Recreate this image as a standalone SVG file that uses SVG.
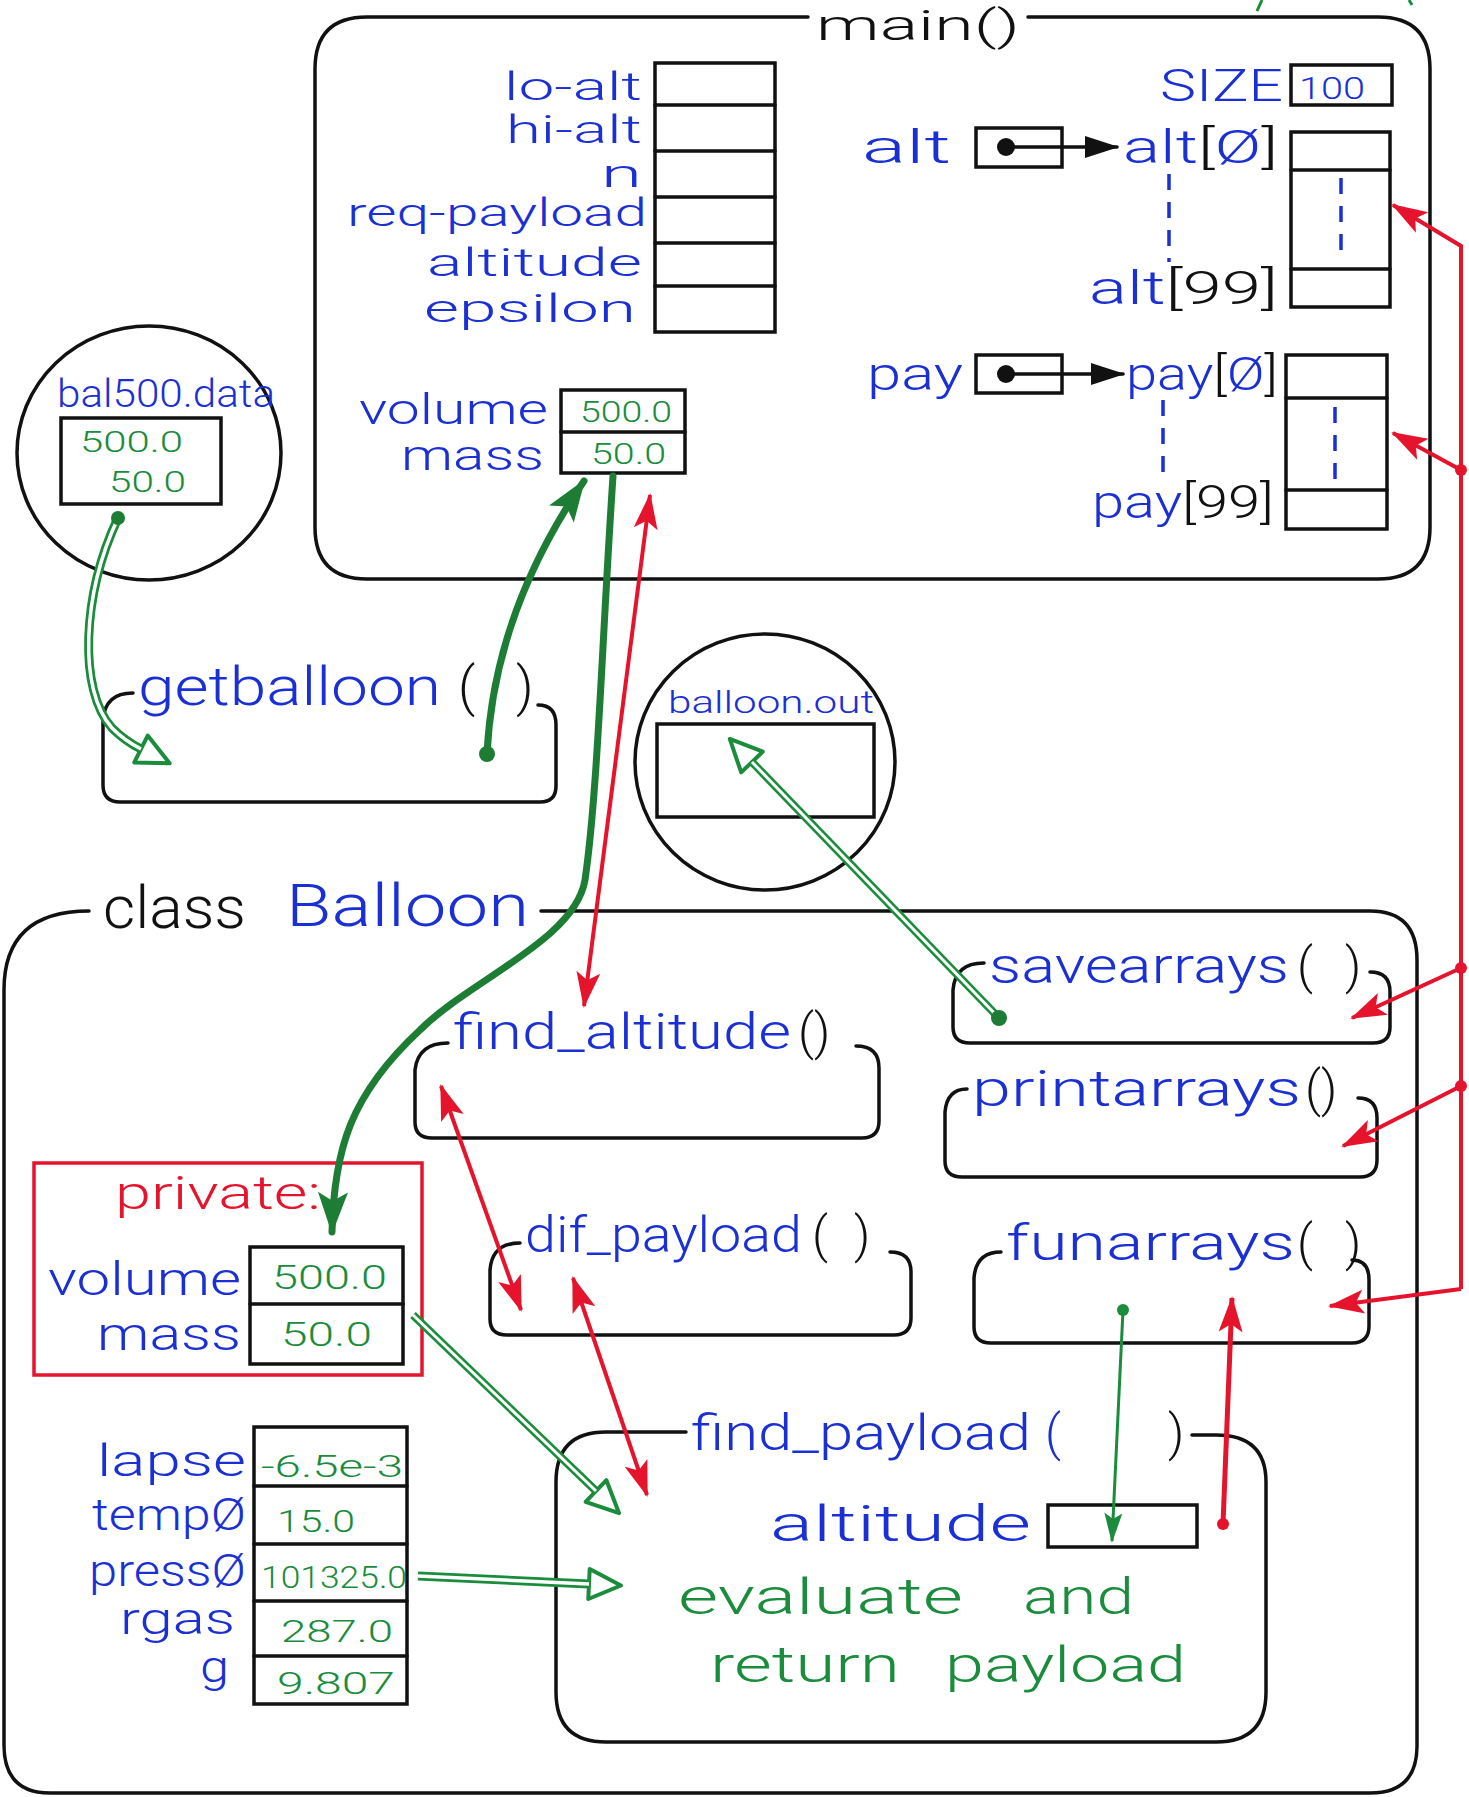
<svg xmlns="http://www.w3.org/2000/svg" width="1469" height="1797" viewBox="0 0 1469 1797">
<style>
text{font-family:Roboto,"Liberation Sans",Arial,sans-serif;font-weight:300}
.b{fill:#1b30d4}
.g{fill:#1a8c3c}
.r{fill:#e5142c}
.k{fill:#111}
.ln{fill:none;stroke:#111;stroke-width:3.5;stroke-linejoin:round;stroke-linecap:round}
.cell{fill:#fff;stroke:#111;stroke-width:3.5}
.dash{fill:none;stroke:#1b30d4;stroke-width:3.5;stroke-dasharray:16 12}
.red{fill:none;stroke:#e5142c;stroke-width:4}
.gth{fill:none;stroke:#1e7d34;stroke-width:7;stroke-linecap:round}
.gdo{fill:none;stroke:#1a8c3c;stroke-width:9}
.gdi{fill:none;stroke:#fff;stroke-width:3.5}
.gthin{fill:none;stroke:#1a8c3c;stroke-width:3}
</style>
<defs>
<marker id="ar" markerUnits="userSpaceOnUse" markerWidth="36" markerHeight="24" refX="34" refY="12" orient="auto-start-reverse" overflow="visible"><path d="M0,0 L36,12 L0,24 L8,12 z" fill="#e5142c"/></marker>
<marker id="ag" markerUnits="userSpaceOnUse" markerWidth="42" markerHeight="30" refX="40" refY="15" orient="auto" overflow="visible"><path d="M0,0 L42,15 L0,30 L9,15 z" fill="#1e7d34"/></marker>
<marker id="agt" markerUnits="userSpaceOnUse" markerWidth="30" markerHeight="18" refX="28" refY="9" orient="auto" overflow="visible"><path d="M0,0 L30,9 L0,18 L6,9 z" fill="#1a8c3c"/></marker>
<marker id="ah" markerUnits="userSpaceOnUse" markerWidth="40" markerHeight="36" refX="4" refY="18" orient="auto" overflow="visible"><path d="M4,3 L36,18 L4,33 z" fill="#fff" stroke="#1a8c3c" stroke-width="4" stroke-linejoin="round"/></marker>
<marker id="ak" markerUnits="userSpaceOnUse" markerWidth="34" markerHeight="22" refX="32" refY="11" orient="auto" overflow="visible"><path d="M0,0 L34,11 L0,22 z" fill="#111"/></marker>
</defs>
<rect width="1469" height="1797" fill="#fff"/>

<g id="main">
<path class="ln" d="M808,17 L367,17 Q315,17 315,69 L315,527 Q315,579 367,579 L1378,579 Q1430,579 1430,527 L1430,69 Q1430,17 1378,17 L1028,17"/>
<text class="k" x="816" y="40" font-size="42" textLength="204" lengthAdjust="spacingAndGlyphs">main()</text>
<g id="main-vars">
<rect class="cell" x="655" y="63" width="120" height="269"/>
<path class="ln" d="M655,105 H775 M655,151 H775 M655,197 H775 M655,243 H775 M655,286 H775"/>
<text class="b" x="642" y="100" font-size="38" text-anchor="end" textLength="138" lengthAdjust="spacingAndGlyphs">lo-alt</text>
<text class="b" x="642" y="143" font-size="38" text-anchor="end" textLength="136" lengthAdjust="spacingAndGlyphs">hi-alt</text>
<text class="b" x="642" y="187" font-size="38" text-anchor="end" textLength="41" lengthAdjust="spacingAndGlyphs">n</text>
<text class="b" x="647" y="226" font-size="38" text-anchor="end" textLength="300" lengthAdjust="spacingAndGlyphs">req-payload</text>
<text class="b" x="642" y="276" font-size="38" text-anchor="end" textLength="215" lengthAdjust="spacingAndGlyphs">altitude</text>
<text class="b" x="636" y="322" font-size="38" text-anchor="end" textLength="212" lengthAdjust="spacingAndGlyphs">epsilon</text>
</g>
<g id="main-vm">
<rect class="cell" x="561" y="390" width="124" height="83"/>
<path class="ln" d="M561,432 H685"/>
<text class="b" x="548" y="424" font-size="42" text-anchor="end" textLength="189" lengthAdjust="spacingAndGlyphs">volume</text>
<text class="b" x="544" y="470" font-size="42" text-anchor="end" textLength="143" lengthAdjust="spacingAndGlyphs">mass</text>
<text class="g" x="580" y="422" font-size="30" textLength="92" lengthAdjust="spacingAndGlyphs">500.0</text>
<text class="g" x="591" y="464" font-size="30" textLength="75" lengthAdjust="spacingAndGlyphs">50.0</text>
</g>
<g id="main-size">
<rect class="cell" x="1291" y="65" width="101" height="40"/>
<text class="b" x="1283" y="101" font-size="44" text-anchor="end" textLength="123" lengthAdjust="spacingAndGlyphs">SIZE</text>
<text class="b" x="1299" y="99" font-size="32" textLength="66" lengthAdjust="spacingAndGlyphs">100</text>
</g>
<g id="main-alt">
<text class="b" x="862" y="163" font-size="46" textLength="89" lengthAdjust="spacingAndGlyphs">alt</text>
<rect class="cell" x="976" y="128" width="86" height="39"/>
<circle cx="1006" cy="147" r="9" fill="#111"/>
<path class="ln" d="M1006,147 L1117,147" marker-end="url(#ak)"/>
<text x="1123" y="163" font-size="46" textLength="155" lengthAdjust="spacingAndGlyphs"><tspan class="b">alt</tspan><tspan class="k">[</tspan><tspan class="b">Ø</tspan><tspan class="k">]</tspan></text>
<path class="dash" d="M1169,174 V262"/>
<text x="1089" y="304" font-size="46" textLength="189" lengthAdjust="spacingAndGlyphs"><tspan class="b">alt</tspan><tspan class="k">[99]</tspan></text>
<rect class="cell" x="1291" y="132" width="99" height="175"/>
<path class="ln" d="M1291,170 H1390 M1291,269 H1390"/>
<path class="dash" d="M1341,178 V258"/>
</g>
<g id="main-pay">
<text class="b" x="867" y="390" font-size="46" textLength="96" lengthAdjust="spacingAndGlyphs">pay</text>
<rect class="cell" x="976" y="355" width="86" height="38"/>
<circle cx="1006" cy="374" r="9" fill="#111"/>
<path class="ln" d="M1006,374 L1123,374" marker-end="url(#ak)"/>
<text x="1126" y="390" font-size="46" textLength="152" lengthAdjust="spacingAndGlyphs"><tspan class="b">pay</tspan><tspan class="k">[</tspan><tspan class="b">Ø</tspan><tspan class="k">]</tspan></text>
<path class="dash" d="M1163,400 V482"/>
<text x="1092" y="518" font-size="46" textLength="182" lengthAdjust="spacingAndGlyphs"><tspan class="b">pay</tspan><tspan class="k">[99]</tspan></text>
<rect class="cell" x="1286" y="355" width="101" height="174"/>
<path class="ln" d="M1286,398 H1387 M1286,490 H1387"/>
<path class="dash" d="M1335,407 V481"/>
</g>
</g>

<g id="bal500">
<ellipse cx="149" cy="453" rx="132" ry="127" class="ln"/>
<text class="b" x="57" y="407" font-size="38" textLength="218" lengthAdjust="spacingAndGlyphs">bal500.data</text>
<rect class="cell" x="61" y="418" width="160" height="86"/>
<text class="g" x="80" y="452" font-size="30" textLength="103" lengthAdjust="spacingAndGlyphs">500.0</text>
<text class="g" x="109" y="492" font-size="30" textLength="77" lengthAdjust="spacingAndGlyphs">50.0</text>
</g>

<g id="getballoon">
<path class="ln" d="M133,693 Q105,693 103,720 L103,785 Q103,802 120,802 L540,802 Q556,802 556,786 L556,725 Q556,705 538,705"/>
<text x="138" y="705" font-size="54"><tspan class="b" textLength="303" lengthAdjust="spacingAndGlyphs">getballoon</tspan><tspan class="k" x="458">(</tspan><tspan class="k" x="516">)</tspan></text>
</g>

<g id="balloonout">
<ellipse cx="765" cy="762" rx="130" ry="128" class="ln"/>
<text class="b" x="668" y="713" font-size="32" textLength="206" lengthAdjust="spacingAndGlyphs">balloon.out</text>
<rect class="cell" x="657" y="724" width="217" height="93"/>
</g>

<g id="classBalloon">
<path class="ln" d="M89,911 Q4,911 4,990 L4,1745 Q4,1793 50,1793 L1370,1793 Q1417,1793 1417,1746 L1417,960 Q1417,911 1370,911 L541,911"/>
<text class="k" x="103" y="928" font-size="60" textLength="143" lengthAdjust="spacingAndGlyphs">class</text>
<text class="b" x="286" y="926" font-size="60" textLength="243" lengthAdjust="spacingAndGlyphs">Balloon</text>
</g>

<g id="find_altitude">
<path class="ln" d="M448,1043 Q418,1043 415,1070 L415,1122 Q415,1138 432,1138 L862,1138 Q879,1138 879,1121 L879,1068 Q879,1046 856,1046"/>
<text x="453" y="1049" font-size="50"><tspan class="b" textLength="338" lengthAdjust="spacingAndGlyphs">find_altitude</tspan><tspan class="k" x="798">()</tspan></text>
</g>

<g id="savearrays">
<path class="ln" d="M984,963 Q955,963 953,990 L953,1027 Q953,1043 970,1043 L1373,1043 Q1390,1043 1390,1027 L1390,992 Q1390,972 1370,972"/>
<text x="989" y="983" font-size="50"><tspan class="b" textLength="300" lengthAdjust="spacingAndGlyphs">savearrays</tspan><tspan class="k" x="1297">(</tspan><tspan class="k" x="1345">)</tspan></text>
</g>

<g id="printarrays">
<path class="ln" d="M967,1089 Q947,1089 945,1112 L945,1161 Q945,1177 962,1177 L1360,1177 Q1377,1177 1377,1160 L1377,1118 Q1377,1098 1358,1098"/>
<text x="972" y="1106" font-size="50"><tspan class="b" textLength="329" lengthAdjust="spacingAndGlyphs">printarrays</tspan><tspan class="k" x="1305">()</tspan></text>
</g>

<g id="dif_payload">
<path class="ln" d="M520,1243 Q492,1243 490,1270 L490,1319 Q490,1335 507,1335 L894,1335 Q911,1335 911,1318 L911,1272 Q911,1252 890,1252"/>
<text x="525" y="1252" font-size="50"><tspan class="b" textLength="277" lengthAdjust="spacingAndGlyphs">dif_payload</tspan><tspan class="k" x="812">(</tspan><tspan class="k" x="854">)</tspan></text>
</g>

<g id="funarrays">
<path class="ln" d="M1001,1252 Q976,1252 974,1278 L974,1327 Q974,1343 991,1343 L1352,1343 Q1369,1343 1369,1326 L1369,1280 Q1369,1260 1352,1260"/>
<text x="1006" y="1260" font-size="50"><tspan class="b" textLength="289" lengthAdjust="spacingAndGlyphs">funarrays</tspan><tspan class="k" x="1297">(</tspan><tspan class="k" x="1345">)</tspan></text>
</g>

<g id="private">
<rect x="34" y="1163" width="388" height="212" fill="none" stroke="#e5142c" stroke-width="3.5"/>
<text class="r" x="115" y="1209" font-size="46" textLength="206" lengthAdjust="spacingAndGlyphs">private:</text>
<rect class="cell" x="250" y="1247" width="153" height="117"/>
<path class="ln" d="M250,1304 H403"/>
<text class="b" x="241" y="1295" font-size="46" text-anchor="end" textLength="193" lengthAdjust="spacingAndGlyphs">volume</text>
<text class="b" x="241" y="1350" font-size="46" text-anchor="end" textLength="144" lengthAdjust="spacingAndGlyphs">mass</text>
<text class="g" x="272" y="1289" font-size="34" textLength="115" lengthAdjust="spacingAndGlyphs">500.0</text>
<text class="g" x="281" y="1346" font-size="34" textLength="91" lengthAdjust="spacingAndGlyphs">50.0</text>
</g>

<g id="constants">
<rect class="cell" x="254" y="1427" width="153" height="277"/>
<path class="ln" d="M254,1486 H407 M254,1544 H407 M254,1601 H407 M254,1656 H407"/>
<text class="b" x="246" y="1476" font-size="44" text-anchor="end" textLength="149" lengthAdjust="spacingAndGlyphs">lapse</text>
<text class="b" x="246" y="1530" font-size="44" text-anchor="end" textLength="154" lengthAdjust="spacingAndGlyphs">tempØ</text>
<text class="b" x="246" y="1586" font-size="44" text-anchor="end" textLength="157" lengthAdjust="spacingAndGlyphs">pressØ</text>
<text class="b" x="235" y="1634" font-size="44" text-anchor="end" textLength="115" lengthAdjust="spacingAndGlyphs">rgas</text>
<text class="b" x="229" y="1682" font-size="44" text-anchor="end" textLength="29" lengthAdjust="spacingAndGlyphs">g</text>
<text class="g" x="261" y="1477" font-size="32" textLength="142" lengthAdjust="spacingAndGlyphs">-6.5e-3</text>
<text class="g" x="277" y="1532" font-size="32" textLength="78" lengthAdjust="spacingAndGlyphs">15.0</text>
<text class="g" x="261" y="1588" font-size="32" textLength="146" lengthAdjust="spacingAndGlyphs">101325.0</text>
<text class="g" x="281" y="1642" font-size="32" textLength="112" lengthAdjust="spacingAndGlyphs">287.0</text>
<text class="g" x="277" y="1694" font-size="32" textLength="118" lengthAdjust="spacingAndGlyphs">9.807</text>
</g>

<g id="find_payload">
<path class="ln" d="M686,1432 L606,1432 Q556,1432 556,1482 L556,1692 Q556,1742 606,1742 L1216,1742 Q1266,1742 1266,1692 L1266,1482 Q1266,1435 1216,1435 L1192,1435"/>
<text x="691" y="1450" font-size="50"><tspan class="b" textLength="340" lengthAdjust="spacingAndGlyphs">find_payload</tspan><tspan class="b" x="1045">(</tspan><tspan class="k" x="1168">)</tspan></text>
<text class="b" x="770" y="1541" font-size="50" textLength="261" lengthAdjust="spacingAndGlyphs">altitude</text>
<rect class="cell" x="1048" y="1505" width="149" height="42"/>
<text class="g" x="678" y="1614" font-size="50"><tspan textLength="285" lengthAdjust="spacingAndGlyphs">evaluate</tspan><tspan x="1023" textLength="111" lengthAdjust="spacingAndGlyphs">and</tspan></text>
<text class="g" x="710" y="1682" font-size="50"><tspan textLength="190" lengthAdjust="spacingAndGlyphs">return</tspan><tspan x="945" textLength="241" lengthAdjust="spacingAndGlyphs">payload</tspan></text>
</g>

<g id="connectors">
<path class="gthin" d="M1262,0 L1257,11 M1409,0 L1412,5"/>
<path class="gdo" d="M118,518 C82,595 78,690 112,728 Q125,741 141,749" marker-end="url(#ah)"/>
<path class="gdi" d="M118,518 C82,595 78,690 112,728 Q125,741 141,749"/>
<circle cx="118" cy="518" r="7" fill="#1e7d34"/>
<path class="gth" d="M487,754 C492,650 530,560 584,481" marker-end="url(#ag)"/>
<circle cx="487" cy="754" r="8" fill="#1e7d34"/>
<path class="gth" d="M613,476 C602,640 598,790 585,880 C575,940 470,980 420,1030 C350,1095 334,1150 332,1232" marker-end="url(#ag)"/>
<path class="red" d="M650,495 L584,1006" marker-start="url(#ar)" marker-end="url(#ar)"/>
<path class="gdo" style="stroke-width:8" d="M999,1018 L752,762" marker-end="url(#ah)"/>
<path class="gdi" style="stroke-width:3" d="M999,1018 L752,762"/>
<circle cx="999" cy="1018" r="8" fill="#1e7d34"/>
<path class="gdo" style="stroke-width:8" d="M413,1315 L596,1491" marker-end="url(#ah)"/>
<path class="gdi" style="stroke-width:3" d="M413,1315 L596,1491"/>
<path class="gdo" d="M418,1576 L589,1584" marker-end="url(#ah)"/>
<path class="gdi" d="M418,1576 L589,1584"/>
<path class="red" d="M441,1086 L521,1310" marker-start="url(#ar)" marker-end="url(#ar)"/>
<path class="red" d="M573,1278 L647,1495" marker-start="url(#ar)" marker-end="url(#ar)"/>
<path class="red" style="stroke-width:5" d="M1223,1524 L1232,1298" marker-end="url(#ar)"/>
<circle cx="1223" cy="1524" r="6" fill="#e5142c"/>
<path class="gthin" d="M1123,1310 L1112,1541" marker-end="url(#agt)"/>
<circle cx="1123" cy="1310" r="6" fill="#1a8c3c"/>
<path class="red" d="M1461,1289 L1461,246 L1393,205" marker-end="url(#ar)"/>
<path class="red" d="M1461,1289 L1330,1306" marker-end="url(#ar)"/>
<path class="red" d="M1461,470 L1393,433" marker-end="url(#ar)"/>
<path class="red" d="M1461,968 L1352,1018" marker-end="url(#ar)"/>
<path class="red" d="M1461,1086 L1343,1146" marker-end="url(#ar)"/>
<circle cx="1461" cy="470" r="6" fill="#e5142c"/>
<circle cx="1461" cy="968" r="6" fill="#e5142c"/>
<circle cx="1461" cy="1086" r="6" fill="#e5142c"/>
</g>
</svg>
